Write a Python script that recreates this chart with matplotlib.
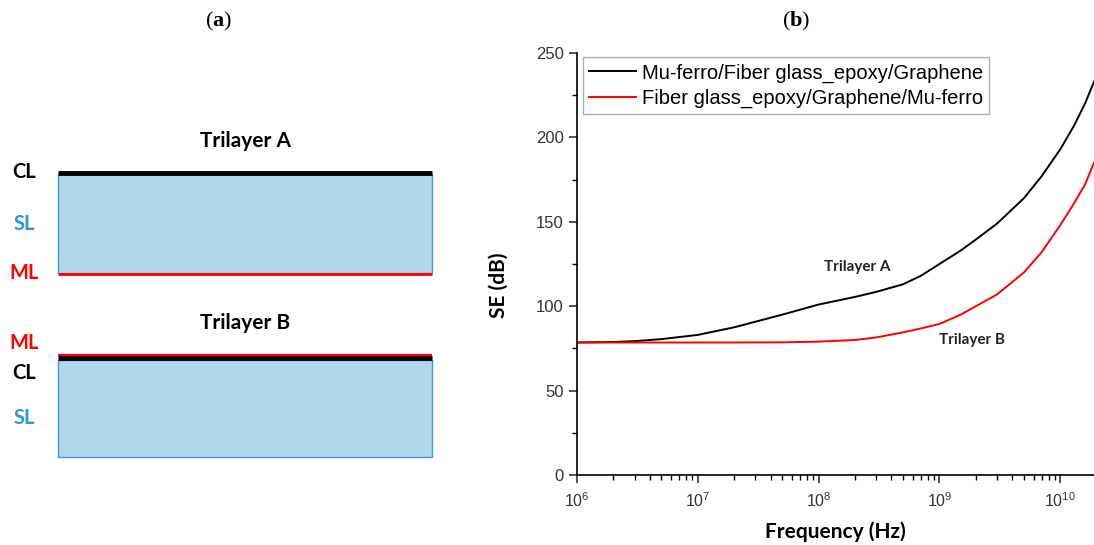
import matplotlib
matplotlib.use("Agg")
import matplotlib.pyplot as plt
from matplotlib.patches import Rectangle
from matplotlib.ticker import LogLocator, MultipleLocator, NullFormatter

plt.rcParams['font.family'] = ['Liberation Sans', 'DejaVu Sans']
plt.rcParams['mathtext.fontset'] = 'custom'
plt.rcParams['mathtext.rm'] = 'Liberation Sans'
plt.rcParams['mathtext.bf'] = 'Liberation Serif:bold'

# shielding effectiveness vs frequency
freq = [1e6, 2e6, 3e6, 5e6, 1e7, 2e7, 5e7, 1e8, 2e8, 3e8, 5e8, 7e8,
        1e9, 1.5e9, 2e9, 3e9, 5e9, 7e9, 1e10, 1.3e10, 1.6e10, 1.9e10]
se_trilayer_a = [78.5, 78.8, 79.3, 80.5, 83.0, 87.5, 95.0, 101.0, 105.5, 108.5, 113.0, 118.0,
                 125.0, 133.0, 139.5, 149.0, 164.0, 177.0, 193.0, 207.0, 220.0, 233.0]
se_trilayer_b = [78.5, 78.5, 78.5, 78.5, 78.5, 78.5, 78.6, 79.0, 80.0, 81.5, 84.5, 86.8,
                 89.5, 95.0, 100.0, 107.0, 120.0, 132.0, 148.0, 161.0, 172.0, 185.0]
series_names = ['Mu-ferro/Fiber glass_epoxy/Graphene',
                'Fiber glass_epoxy/Graphene/Mu-ferro']

# layer stacks for panel (a)
stack_a = ['CL', 'SL', 'ML']
stack_b = ['ML', 'CL', 'SL']
label_colors = {'CL': 'black', 'SL': '#2a9ad8', 'ML': '#ff0000'}

W, H = 1094, 545
fig = plt.figure(figsize=(W / 100, H / 100), dpi=100)

# panel (a): drawn in pixel space
ax_a = fig.add_axes([0, 0, 1, 1])
ax_a.set_xlim(0, W)
ax_a.set_ylim(H, 0)
ax_a.axis('off')

blue_fill = '#b0d7ea'
blue_edge = '#3d9ad6'
calibri = ['Lato', 'DejaVu Sans']
title_font = dict(family=calibri, fontsize=15, fontweight='bold', ha='center', va='center')
lbl_font = dict(family=calibri, fontsize=14.5, fontweight='bold', ha='center', va='center')

# Trilayer A
ax_a.add_patch(Rectangle((58, 174), 374, 99, facecolor=blue_fill, edgecolor=blue_edge, lw=1))
ax_a.plot([58, 432], [173, 173], color='black', lw=3.5, solid_capstyle='butt')
ax_a.plot([58, 432], [273.5, 273.5], color='#ff0000', lw=2, solid_capstyle='butt')
ax_a.text(245, 141, 'Trilayer A', **title_font)
for name, y in zip(stack_a, [172, 224, 273]):
    ax_a.text(24, y, name, color=label_colors[name], **lbl_font)

# Trilayer B
ax_a.add_patch(Rectangle((58, 360), 374, 97, facecolor=blue_fill, edgecolor=blue_edge, lw=1))
ax_a.plot([58, 432], [358, 358], color='black', lw=3.5, solid_capstyle='butt')
ax_a.plot([58, 432], [354.5, 354.5], color='#ff0000', lw=1.6, solid_capstyle='butt')
ax_a.text(245, 323, 'Trilayer B', **title_font)
for name, y in zip(stack_b, [343, 373, 418]):
    ax_a.text(24, y, name, color=label_colors[name], **lbl_font)

ax_a.text(219, 21, r'($\mathbf{a}$)', family='Liberation Serif', fontsize=16,
          ha='center', va='center')
ax_a.text(796, 21, r'($\mathbf{b}$)', family='Liberation Serif', fontsize=16,
          ha='center', va='center')

# panel (b)
ax = fig.add_axes([577 / W, (H - 475) / H, (W - 577) / W, (475 - 53) / H])
ax.plot(freq, se_trilayer_a, color='black', lw=1.4, label=series_names[0])
ax.plot(freq, se_trilayer_b, color='#ff0000', lw=1.4, label=series_names[1])
ax.set_xscale('log')
ax.set_xlim(1e6, 1.9e10)
ax.set_ylim(0, 250)

ax.spines['top'].set_visible(False)
ax.spines['right'].set_visible(False)
ax.spines['left'].set_linewidth(1.2)
ax.spines['bottom'].set_linewidth(1.2)

ax.yaxis.set_major_locator(MultipleLocator(50))
ax.yaxis.set_minor_locator(MultipleLocator(25))
ax.xaxis.set_major_locator(LogLocator(base=10, numticks=20))
ax.xaxis.set_minor_locator(LogLocator(base=10, subs=range(2, 10), numticks=20))
ax.xaxis.set_minor_formatter(NullFormatter())
ax.tick_params(which='major', direction='out', length=6, width=1.1, labelsize=12,
               colors='#222222', labelcolor='#333333')
ax.tick_params(which='minor', direction='out', length=3.5, width=1.0)
ax.tick_params(axis='x', labelsize=11.5, pad=6)

ax.set_xlabel('Frequency (Hz)', family=calibri, fontsize=15, fontweight='bold', labelpad=8)
ax.set_ylabel('SE (dB)', family=calibri, fontsize=15, fontweight='bold')
ax.yaxis.set_label_coords(-0.133, 0.45)

leg = ax.legend(loc='upper left', bbox_to_anchor=(0.012, 0.99), fontsize=14.5,
                frameon=True, fancybox=False, edgecolor='#999999', handlelength=2.3,
                handletextpad=0.3, borderpad=0.3, labelspacing=0.3, borderaxespad=0)
leg.get_frame().set_linewidth(1.0)

ax.text(2.1e8, 123, 'Trilayer A', family=calibri, fontsize=11,
        fontweight='bold', ha='center', va='center', color='#222222')
ax.text(1.86e9, 80, 'Trilayer B', family=calibri, fontsize=11,
        fontweight='bold', ha='center', va='center', color='#222222')

fig.savefig('out.png', dpi=100)
